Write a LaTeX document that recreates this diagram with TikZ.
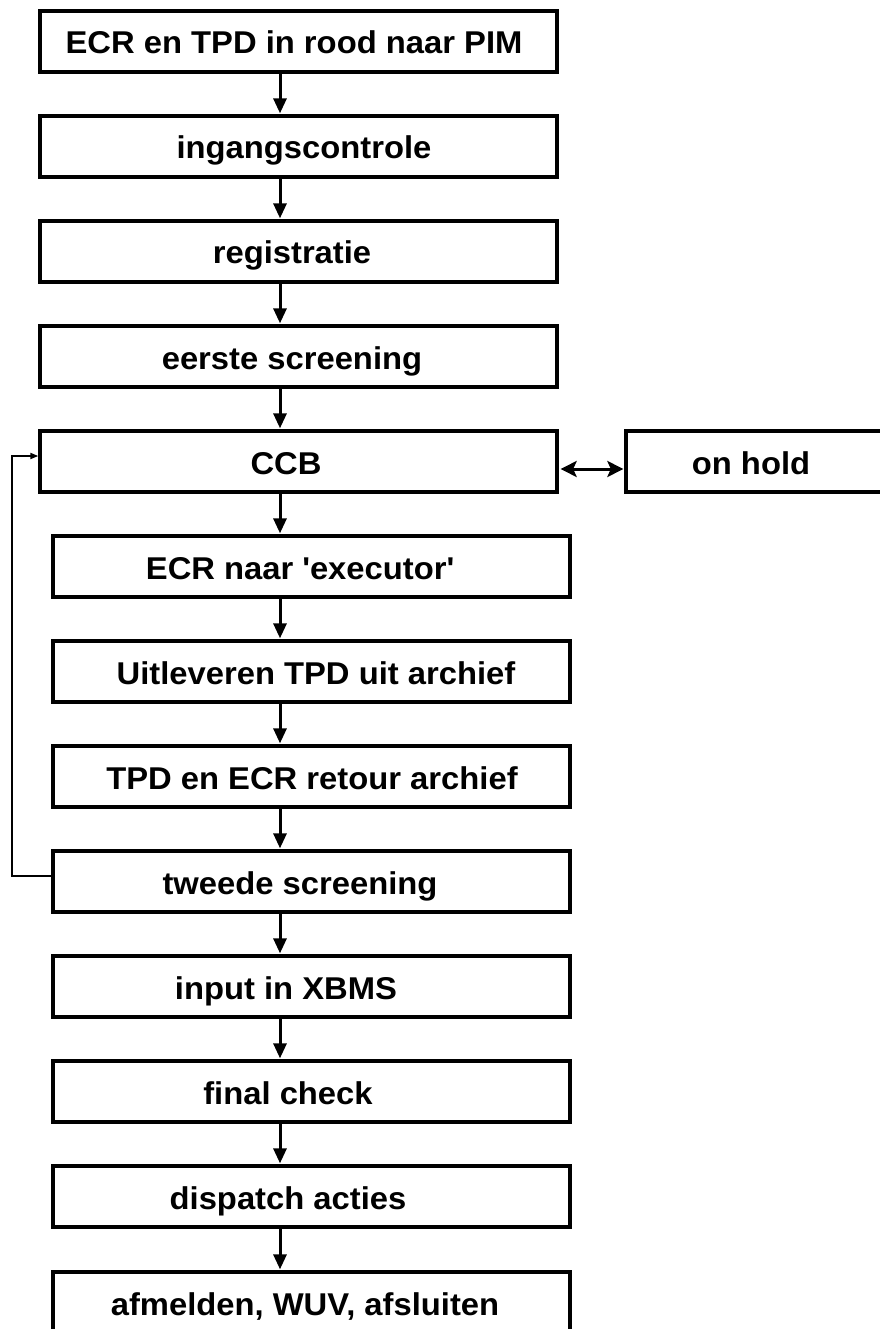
\documentclass[tikz,border=0pt]{standalone}
\usepackage{fontspec}
\setmainfont{Liberation Sans}[FakeStretch=1.04]
\usetikzlibrary{arrows.meta}
\newcommand{\lblfont}{\fontsize{31.5}{36}\selectfont\bfseries}
\tikzset{
  stepbox/.style={draw, line width=3.3pt, minimum width=517pt, minimum height=61pt, inner sep=0pt},
  holdbox/.style={stepbox, minimum width=259pt},
  lbl/.style={anchor=base, inner sep=0pt, font=\lblfont},
  flow/.style={line width=3pt, -{Triangle[length=15pt,width=13pt]}, shorten >=1pt},
  both/.style={line width=3pt, {Stealth[length=16pt,width=16pt,inset=3.5pt]}-{Stealth[length=16pt,width=16pt,inset=3.5pt]}, shorten <=2pt, shorten >=1pt},
  back/.style={line width=1.8pt, -{Triangle[length=8pt,width=6pt]}},
}
\begin{document}
\begin{tikzpicture}[x=1pt,y=-1pt]
\useasboundingbox (0,0) rectangle (879,1329);
\fill[white] (0,0) rectangle (879,1329);

% main column: upper part
\node[stepbox] (b1) at (298.5,41.5) {};
\node[stepbox] (b2) at (298.5,146.5) {};
\node[stepbox] (b3) at (298.5,251.5) {};
\node[stepbox] (b4) at (298.5,356.5) {};
\node[stepbox] (b5) at (298.5,461.5) {};
\node[holdbox] (hold) at (755.5,461.5) {};
% main column: lower part (shifted to the right)
\node[stepbox] (b6) at (311.5,566.5) {};
\node[stepbox] (b7) at (311.5,671.5) {};
\node[stepbox] (b8) at (311.5,776.5) {};
\node[stepbox] (b9) at (311.5,881.5) {};
\node[stepbox] (b10) at (311.5,986.5) {};
\node[stepbox] (b11) at (311.5,1091.5) {};
\node[stepbox] (b12) at (311.5,1196.5) {};
\node[stepbox] (b13) at (311.5,1302.5) {};

% box texts
\node[lbl] (t1) at (294,54) {ECR en TPD in rood naar PIM};
\node[lbl] (t2) at (304,159) {ingangscontrole};
\node[lbl] (t3) at (292,264) {registratie};
\node[lbl] (t4) at (292,369) {eerste screening};
\node[lbl] (t5) at (286,474) {CCB};
\node[lbl] (th) at (751,474) {on hold};
\node[lbl] (t6) at (300,579) {ECR naar \textquotesingle executor\textquotesingle};
\node[lbl] (t7) at (316,684) {Uitleveren TPD uit archief};
\node[lbl] (t8) at (312,789) {TPD en ECR retour archief};
\node[lbl] (t9) at (300,894) {tweede screening};
\node[lbl] (t10) at (286,999) {input in XBMS};
\node[lbl] (t11) at (288,1104) {final check};
\node[lbl] (t12) at (288,1209) {dispatch acties};
\node[lbl] (t13) at (305,1315) {afmelden, WUV, afsluiten};

% vertical flow arrows
\coordinate (axis) at (280,0);
\foreach \a/\b in {b1/b2,b2/b3,b3/b4,b4/b5,b5/b6,b6/b7,b7/b8,b8/b9,b9/b10,b10/b11,b11/b12,b12/b13}
  \draw[flow] (\a.south -| axis) -- (\b.north -| axis);

% CCB <-> on hold
\draw[both] ([yshift=-7.5pt]b5.east) -- ([yshift=-7.5pt]b5.east -| hold.west);

% feedback from second screening to CCB
\coordinate (lx) at (12,0);
\draw[back] ([yshift=5.5pt]b9.west) -- ([yshift=5.5pt]b9.west -| lx)
  -- ([yshift=5.5pt]b5.west -| lx) -- ([yshift=5.5pt]b5.west);
\end{tikzpicture}
\end{document}
